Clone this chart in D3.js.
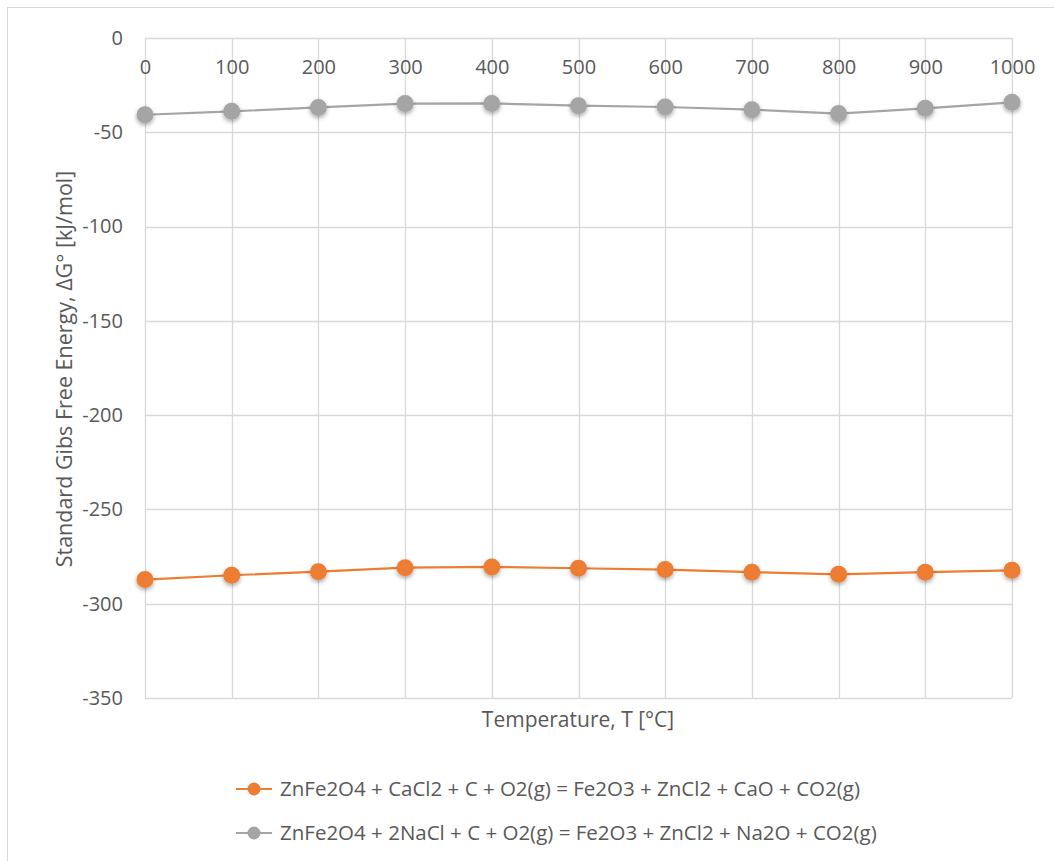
<!DOCTYPE html>
<html>
<head>
<meta charset="utf-8">
<script src="https://cdn.jsdelivr.net/npm/d3@7"></script>
<style>
  html, body { margin: 0; padding: 0; background: #fff; }
  svg { display: block; }
</style>
</head>
<body>
<svg id="chart" width="1054" height="861"></svg>
<script>
// Temperature categories (°C)
const temperatures = [0, 100, 200, 300, 400, 500, 600, 700, 800, 900, 1000];

// Standard Gibbs free energy, ΔG° [kJ/mol]
const caCl2Series = [-287.2, -284.9, -283.0, -280.9, -280.5, -281.2, -281.9, -283.3, -284.4, -283.3, -282.3];
const naClSeries  = [-40.7, -38.9, -36.8, -34.8, -34.7, -35.9, -36.6, -38.0, -40.1, -37.3, -34.1];

const seriesNames = [
  "ZnFe2O4 + CaCl2 + C + O2(g) = Fe2O3 + ZnCl2 + CaO + CO2(g)",
  "ZnFe2O4 + 2NaCl + C + O2(g) = Fe2O3 + ZnCl2 + Na2O + CO2(g)"
];
const seriesColors = ["#ED7D31", "#A5A5A5"];
const yTicks = [0, -50, -100, -150, -200, -250, -300, -350];

const xTitle = "Temperature, T [°C]";
const yTitle = "Standard Gibs Free Energy, ΔG° [kJ/mol]";

const series = [
  { name: seriesNames[0], color: seriesColors[0], values: caCl2Series },
  { name: seriesNames[1], color: seriesColors[1], values: naClSeries }
];

const svg = d3.select("#chart");
const W = 1054, H = 861;
const plot = { left: 145, right: 1012, top: 38, bottom: 698 };

const tickFont = "'Open Sans', 'DejaVu Sans', sans-serif";
const textFont = "'Open Sans', 'DejaVu Sans', sans-serif";

// Drop shadow for markers
const defs = svg.append("defs");
const shadow = defs.append("filter").attr("id", "mshadow")
  .attr("x", "-60%").attr("y", "-60%").attr("width", "220%").attr("height", "220%");
shadow.append("feDropShadow").attr("dx", 0).attr("dy", 2).attr("stdDeviation", 2)
  .attr("flood-color", "#000").attr("flood-opacity", 0.35);

// Chart frame
svg.append("rect")
  .attr("x", 7.5).attr("y", 7.5).attr("width", W - 7).attr("height", H - 7)
  .attr("fill", "#fff").attr("stroke", "#d9d9d9").attr("stroke-width", 1);

const x = d3.scaleLinear().domain([0, 1000]).range([plot.left, plot.right]);
const y = d3.scaleLinear().domain([-350, 0]).range([plot.bottom, plot.top]);

// Horizontal gridlines
svg.append("g").selectAll("line").data(yTicks).join("line")
  .attr("x1", plot.left).attr("x2", plot.right)
  .attr("y1", d => Math.round(y(d)) + 0.5).attr("y2", d => Math.round(y(d)) + 0.5)
  .attr("stroke", "#d9d9d9").attr("stroke-width", 1.3);

// Vertical gridlines at each category
svg.append("g").selectAll("line").data(temperatures).join("line")
  .attr("x1", d => Math.round(x(d)) + 0.5).attr("x2", d => Math.round(x(d)) + 0.5)
  .attr("y1", plot.top).attr("y2", plot.bottom)
  .attr("stroke", "#d9d9d9").attr("stroke-width", 1.3);

// Y axis tick labels
const yAxis = d3.axisLeft(y).tickValues(yTicks).tickSize(0).tickPadding(0)
  .tickFormat(d => d3.format("d")(d).replace("−", "-"));
const yg = svg.append("g").attr("transform", `translate(${plot.left - 22},0)`).call(yAxis);
yg.select(".domain").remove();
yg.selectAll("text")
  .attr("font-family", tickFont).attr("font-size", 20).attr("fill", "#595959");

// X axis tick labels sit under the y = 0 line
const xAxis = d3.axisBottom(x).tickValues(temperatures).tickSize(0).tickPadding(0)
  .tickFormat(d3.format("d"));
const xg = svg.append("g").attr("transform", `translate(0,${y(0) + 22})`).call(xAxis);
xg.select(".domain").remove();
xg.selectAll("text")
  .attr("font-family", tickFont).attr("font-size", 20).attr("fill", "#595959");

// Axis titles
svg.append("text")
  .attr("x", 578).attr("y", 727)
  .attr("text-anchor", "middle")
  .attr("font-family", textFont).attr("font-size", 21).attr("fill", "#595959")
  .text(xTitle);

svg.append("text")
  .attr("transform", `translate(72,${(plot.top + plot.bottom) / 2 + 1}) rotate(-90)`)
  .attr("text-anchor", "middle")
  .attr("font-family", textFont).attr("font-size", 21.5).attr("fill", "#595959")
  .text(yTitle);

// Series lines and markers
const line = d3.line().x((d, i) => x(temperatures[i])).y(d => y(d));
series.forEach(s => {
  const g = svg.append("g");
  g.append("path").datum(s.values)
    .attr("d", line).attr("fill", "none")
    .attr("stroke", s.color).attr("stroke-width", 2.2);
  g.selectAll("circle").data(s.values).join("circle")
    .attr("cx", (d, i) => x(temperatures[i])).attr("cy", d => y(d))
    .attr("r", 8.5).attr("fill", s.color).attr("filter", "url(#mshadow)");
});

// Legend
const legendRows = [789, 833];
series.forEach((s, i) => {
  const g = svg.append("g").attr("transform", `translate(0,${legendRows[i]})`);
  g.append("line").attr("x1", 236).attr("x2", 272).attr("y1", 0).attr("y2", 0)
    .attr("stroke", s.color).attr("stroke-width", 2.2);
  g.append("circle").attr("cx", 254).attr("cy", 0).attr("r", 6.5).attr("fill", s.color);
  g.append("text").attr("x", 280).attr("y", 0).attr("dy", "0.35em")
    .attr("font-family", textFont).attr("font-size", 20.5).attr("fill", "#595959")
    .text(s.name);
});
</script>
</body>
</html>
